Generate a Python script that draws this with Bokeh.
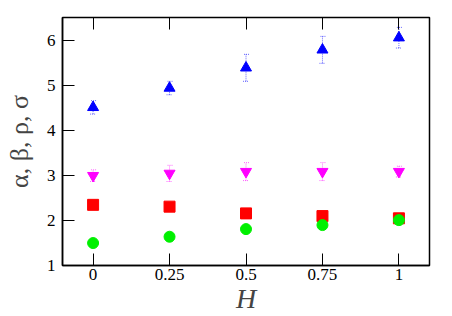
from bokeh.plotting import figure
from bokeh.models import LinearAxis, FixedTicker, Whisker, ColumnDataSource, Range1d
from bokeh.embed import file_html
from bokeh.resources import INLINE

H = [0, 0.25, 0.5, 0.75, 1]
x_tick_labels = ["0", "0.25", "0.5", "0.75", "1"]
y_ticks = [1, 2, 3, 4, 5, 6]

alpha_vals = [4.52, 4.95, 5.40, 5.80, 6.07]
alpha_err = [0.15, 0.15, 0.30, 0.30, 0.23]
beta_vals = [3.00, 3.05, 3.09, 3.09, 3.09]
beta_err = [0.13, 0.18, 0.20, 0.20, 0.12]
rho_vals = [2.35, 2.31, 2.16, 2.10, 2.05]
sigma_vals = [1.50, 1.64, 1.81, 1.90, 2.01]

SERIF = "Liberation Serif"

p = figure(width=452, height=316, output_backend="svg", toolbar_location=None,
           x_range=Range1d(-0.1, 1.1), y_range=Range1d(1, 6.52),
           min_border_left=62, min_border_right=23, min_border_top=17, min_border_bottom=50)
p.xgrid.visible = False
p.ygrid.visible = False
p.outline_line_color = "black"
p.outline_line_width = 1.5
p.background_fill_color = "white"
p.border_fill_color = "white"

for ax in p.xaxis:
    ax.ticker = FixedTicker(ticks=H)
    ax.major_label_overrides = {h: l for h, l in zip(H, x_tick_labels)}
    ax.major_tick_in = 12
    ax.major_tick_out = 0
    ax.minor_tick_in = 0
    ax.minor_tick_out = 0
    ax.major_label_standoff = 3
    ax.major_label_text_font = SERIF
    ax.major_label_text_font_size = "17px"
    ax.major_label_text_color = "black"
    ax.axis_label = "H"
    ax.axis_label_text_font = SERIF
    ax.axis_label_text_font_style = "italic"
    ax.axis_label_text_font_size = "28px"
    ax.axis_label_standoff = 0
    ax.axis_line_color = "black"
    ax.axis_line_width = 1.5
    ax.major_tick_line_color = "black"

for ax in p.yaxis:
    ax.ticker = FixedTicker(ticks=y_ticks)
    ax.major_tick_in = 12
    ax.major_tick_out = 0
    ax.minor_tick_in = 0
    ax.minor_tick_out = 0
    ax.major_label_standoff = 7
    ax.major_label_text_font = SERIF
    ax.major_label_text_font_size = "17px"
    ax.major_label_text_color = "black"
    ax.axis_label = "α, β, ρ, σ"
    ax.axis_label_text_font = SERIF
    ax.axis_label_text_font_style = "normal"
    ax.axis_label_text_font_size = "26px"
    ax.axis_label_standoff = 10
    ax.axis_line_color = "black"
    ax.axis_line_width = 1.5
    ax.major_tick_line_color = "black"

top = LinearAxis(ticker=FixedTicker(ticks=H), major_tick_in=12, major_tick_out=0,
                 minor_tick_in=0, minor_tick_out=0,
                 major_label_overrides={h: "" for h in H},
                 major_label_standoff=0, axis_line_color=None, major_tick_line_color="black")
p.add_layout(top, "above")

def add_err(vals, err, color):
    src = ColumnDataSource(dict(x=H, lo=[v - e for v, e in zip(vals, err)],
                                hi=[v + e for v, e in zip(vals, err)]))
    w = Whisker(source=src, base="x", lower="lo", upper="hi", dimension="height",
                line_color=color, line_alpha=0.6, line_width=1, line_dash="1 1")
    w.upper_head.size = 6
    w.lower_head.size = 6
    for hd in (w.upper_head, w.lower_head):
        hd.line_color = color
        hd.line_alpha = 0.6
        hd.line_dash = "1 1"
    p.add_layout(w)

add_err(alpha_vals, alpha_err, "blue")
add_err(beta_vals, beta_err, "magenta")

p.scatter(H, alpha_vals, marker="triangle", size=11, color="blue")
p.scatter(H, beta_vals, marker="inverted_triangle", size=11, color="magenta")
p.scatter(H, rho_vals, marker="square", size=11, color="red")
p.scatter(H, sigma_vals, marker="circle", size=11, color="#00f000")

open("out.html", "w").write(file_html(p, INLINE))
